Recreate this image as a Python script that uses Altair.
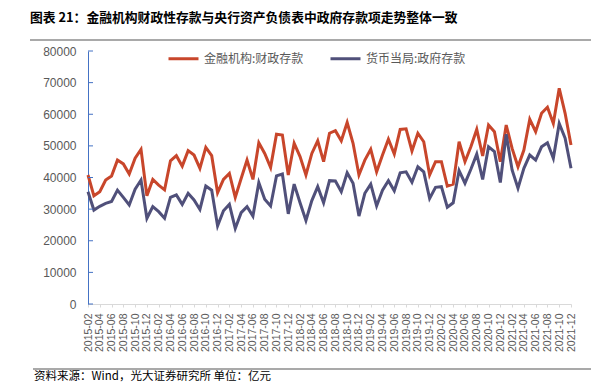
import altair as alt
import pandas as pd

# ---- data (亿元) ----
months = []
y, m = 2015, 2
while (y, m) <= (2021, 12):
    months.append(f"{y}-{m:02d}")
    m += 1
    if m > 12:
        y, m = y + 1, 1

fiscal = [
    40800, 34200, 35500, 39200, 40500, 45500, 44300, 41100, 46100, 48900, 34200,
    39400, 37600, 36100, 45300, 46900, 43600, 48500, 47100, 42900, 49500, 46900, 35200,
    39400, 41300, 33700, 39700, 45500, 39400, 51000, 47600, 43200, 53700, 53400, 40800,
    50800, 46600, 40800, 47600, 51600, 45000, 54000, 54800, 51600, 57400, 50800, 40800,
    45500, 48900, 41800, 47100, 52100, 47400, 55200, 55400, 48400, 54000, 51300, 40800,
    45000, 45000, 37300, 37900, 51300, 45000, 49700, 55200, 46800, 56600, 54500, 45000,
    56600, 49200, 43400, 48700, 58400, 54500, 60300, 62200, 57100, 68200, 60300, 50300,
]
govt = [
    35500, 29700, 30900, 31800, 32400, 36000, 33700, 31300, 36300, 39200, 27100,
    30800, 29200, 27100, 33700, 34500, 31500, 35000, 32900, 29900, 37300, 36000, 24700,
    29500, 31500, 23900, 28900, 30800, 27800, 38400, 33100, 31000, 40500, 41100, 28500,
    37900, 32000, 26400, 32700, 37100, 32000, 39000, 38900, 35500, 41500, 38200, 27800,
    35000, 37900, 31000, 36000, 39000, 35800, 41500, 41800, 38500, 43400, 41800, 33400,
    36900, 37100, 30600, 32000, 42200, 38200, 42600, 47400, 39400, 49700, 48200, 38400,
    53700, 42400, 36600, 42900, 47100, 45500, 49700, 51000, 46100, 57100, 52400, 42900,
]
series_names = ["金融机构:财政存款", "货币当局:政府存款"]
series_colors = ["#C8462B", "#50507A"]
y_ticks = [0, 10000, 20000, 30000, 40000, 50000, 60000, 70000, 80000]
x_labels = months[::2]

title_text = "图表 21：金融机构财政性存款与央行资产负债表中政府存款项走势整体一致"
source_text = "资料来源：Wind，光大证券研究所 单位：亿元"

df = pd.DataFrame({
    "month": months * 2,
    "value": fiscal + govt,
    "series": [series_names[0]] * len(months) + [series_names[1]] * len(months),
})

CJK = "Noto Sans CJK SC"
NUM = "Liberation Sans"

yscale = alt.Scale(domain=[0, 80000], nice=False)
yaxis = alt.Axis(title=None, values=y_ticks, grid=False, ticks=False,
                 labelFont=NUM, labelFontSize=12, labelColor="#595959",
                 labelPadding=12, domainColor="#4472C4", format="d",
                 labelOverlap=False)

lines = alt.Chart(df).mark_line(strokeWidth=3).encode(
    x=alt.X("month:O", sort=months, scale=alt.Scale(type="point", padding=0),
            axis=alt.Axis(title=None, values=x_labels, labelAngle=-90,
                          labelFont=NUM, labelFontSize=10.5, labelColor="#595959",
                          labelPadding=6, domainColor="#D9D9D9", tickColor="#D9D9D9",
                          tickSize=3, labelOverlap=False)),
    y=alt.Y("value:Q", scale=yscale, axis=yaxis),
    color=alt.Color("series:N", sort=series_names,
                    scale=alt.Scale(domain=series_names, range=series_colors),
                    legend=alt.Legend(title=None, orient="none", legendX=79, legendY=-9,
                                      direction="horizontal", symbolType="stroke",
                                      symbolSize=900, symbolStrokeWidth=3,
                                      labelFont=CJK, labelFontSize=12, labelColor="#595959",
                                      labelOffset=4, columnPadding=20, labelLimit=300)),
)

tick_df = pd.DataFrame({"value": y_ticks})
yticks = alt.Chart(tick_df).mark_rule(color="#4472C4", strokeWidth=1).encode(
    y=alt.Y("value:Q", scale=yscale, axis=yaxis), x=alt.value(0), x2=alt.value(5))

one = pd.DataFrame({"t": [title_text]})
title = alt.Chart(one).mark_text(font=CJK, fontSize=12.8, fontWeight="bold", color="#000000",
                                 align="left", baseline="middle").encode(
    x=alt.value(-58), y=alt.value(-33), text="t:N")

src = alt.Chart(pd.DataFrame({"t": [source_text]})).mark_text(
    font=CJK, fontSize=11.5, color="#000000", align="left", baseline="middle").encode(
    x=alt.value(-54), y=alt.value(326), text="t:N")

rule_df = pd.DataFrame({"k": [1]})
top_rule = alt.Chart(rule_df).mark_rule(color="#8C8C8C", strokeWidth=1.5).encode(
    x=alt.value(-58), x2=alt.value(503), y=alt.value(-11))
bot_rule = alt.Chart(rule_df).mark_rule(color="#8C8C8C", strokeWidth=1.5).encode(
    x=alt.value(-55), x2=alt.value(503), y=alt.value(318))

chart = alt.layer(lines, yticks, title, src, top_rule, bot_rule).properties(
    width=483, height=253,
    autosize=alt.AutoSizeParams(type="none"),
    padding={"left": 80, "top": 43, "right": 29, "bottom": 80},
).configure_view(stroke=None)

chart.save("out.html", embed_options={"renderer": "svg", "actions": False})
